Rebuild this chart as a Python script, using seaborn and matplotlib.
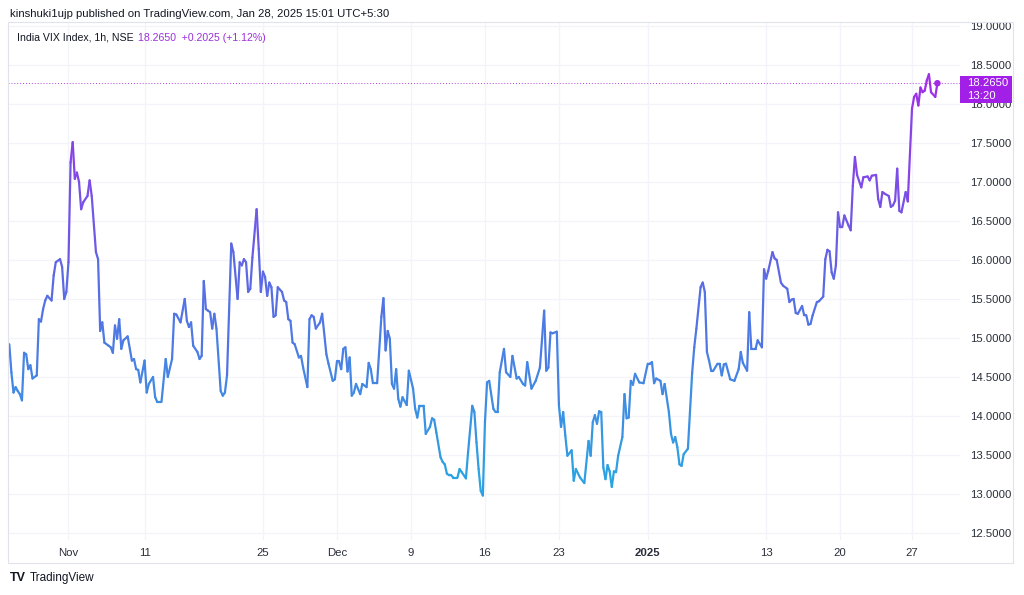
import numpy as np
import pandas as pd
import seaborn as sns
import matplotlib.pyplot as plt
import matplotlib.transforms as mtransforms
from matplotlib.collections import LineCollection
from matplotlib.colors import Normalize
from matplotlib.patches import Rectangle

# hourly bar number (trading hours only, bar 0 = Oct 28 09:15) and India VIX close
bars = [0, 1, 2, 3, 4, 5, 6, 7, 8, 9, 10, 11, 13, 14, 15, 16, 17, 18, 20, 21, 22, 24, 25, 26, 27, 28,
        29, 30, 31, 32, 33, 34, 35, 37, 38, 39, 41, 42, 43, 44, 45, 47, 48, 49, 50, 51, 52, 53, 54, 56,
        58, 59, 60, 61, 62, 64, 65, 66, 68, 69, 70, 72, 74, 75, 77, 78, 79, 81, 83, 84, 85, 86, 87, 89,
        90, 91, 92, 93, 94, 95, 96, 97, 98, 100, 101, 102, 103, 105, 106, 108, 109, 110, 111, 112, 113,
        114, 115, 117, 118, 119, 120, 121, 122, 123, 124, 125, 126, 127, 129, 130, 131, 132, 133, 134,
        135, 137, 138, 139, 141, 142, 143, 144, 145, 147, 148, 150, 151, 153, 154, 155, 156, 157, 158,
        159, 160, 161, 162, 163, 164, 166, 167, 169, 170, 171, 172, 174, 176, 177, 178, 179, 180, 181,
        182, 183, 184, 185, 186, 188, 189, 191, 192, 193, 194, 196, 197, 199, 200, 201, 202, 204, 205,
        206, 207, 208, 209, 210, 212, 213, 214, 216, 217, 219, 220, 221, 222, 223, 224, 225, 226, 227,
        229, 230, 231, 232, 234, 235, 237, 238, 240, 241, 243, 244, 245, 247, 249, 251, 253, 254, 255,
        256, 257, 259, 260, 261, 262, 263, 264, 266, 267, 268, 270, 272, 274, 275, 276, 277, 278, 279,
        280, 281, 282, 283, 284, 285, 286, 287, 288, 290, 291, 292, 293, 294, 295, 296, 298, 300, 302,
        303, 304, 305, 306, 308, 309, 310, 312, 313, 314, 315, 316, 317, 318, 319, 321, 323, 324, 325,
        327, 328, 329, 330, 331, 332, 333, 335, 336, 337, 338, 339, 341, 343, 345, 346, 347, 349, 350,
        351, 353, 354, 356, 357, 358, 359, 361, 362, 363, 365, 366, 368, 369, 370, 371, 372, 373, 375,
        376, 377, 378, 379, 380, 382, 383, 385, 386, 387, 388, 389, 390, 391, 392, 393, 394, 395, 397,
        398, 399, 400, 401, 403, 404, 406, 407, 408, 410, 411, 412, 413, 414, 416, 417, 418, 419, 420,
        421, 422, 424, 425, 427, 428, 429, 430, 431, 432, 433, 434, 435, 436, 438, 439]
vix = [14.92, 14.56, 14.30, 14.37, 14.32, 14.28, 14.20, 14.81, 14.79, 14.60, 14.65, 14.48, 14.52,
       15.24, 15.21, 15.37, 15.48, 15.54, 15.48, 15.80, 15.97, 16.01, 15.91, 15.50, 15.59, 15.97,
       17.25, 17.51, 17.04, 17.12, 17.00, 16.65, 16.74, 16.82, 17.02, 16.82, 16.10, 16.01, 15.09,
       15.20, 14.94, 14.90, 14.88, 14.81, 15.16, 14.99, 15.24, 14.86, 14.97, 15.02, 14.71, 14.73,
       14.60, 14.59, 14.43, 14.71, 14.30, 14.41, 14.50, 14.24, 14.18, 14.18, 14.73, 14.50, 14.73,
       15.31, 15.30, 15.20, 15.50, 15.22, 15.14, 15.20, 14.90, 14.82, 14.73, 14.77, 15.73, 15.37,
       15.35, 15.33, 15.12, 15.31, 15.12, 14.32, 14.26, 14.30, 14.52, 16.21, 16.10, 15.50, 15.97,
       15.93, 16.01, 15.97, 15.59, 15.63, 16.03, 16.65, 16.14, 15.59, 15.85, 15.78, 15.54, 15.71,
       15.65, 15.27, 15.29, 15.65, 15.59, 15.48, 15.46, 15.24, 15.22, 14.94, 14.92, 14.75, 14.77,
       14.62, 14.37, 15.24, 15.29, 15.27, 15.12, 15.20, 15.31, 14.79, 14.67, 14.45, 14.47, 14.70,
       14.70, 14.60, 14.86, 14.88, 14.57, 14.75, 14.26, 14.30, 14.41, 14.28, 14.41, 14.37, 14.68,
       14.60, 14.42, 14.42, 15.27, 15.51, 14.84, 15.09, 14.99, 14.41, 14.35, 14.60, 14.22, 14.12,
       14.24, 14.14, 14.58, 14.35, 14.09, 13.98, 14.13, 14.13, 13.77, 13.86, 13.97, 13.95, 13.79,
       13.47, 13.41, 13.38, 13.26, 13.24, 13.24, 13.21, 13.21, 13.32, 13.28, 13.20, 13.53, 14.13,
       14.05, 13.66, 13.32, 13.04, 12.98, 13.92, 14.43, 14.45, 14.09, 14.05, 14.05, 14.56, 14.86,
       14.56, 14.50, 14.77, 14.48, 14.50, 14.41, 14.39, 14.69, 14.35, 14.45, 14.62, 15.35, 14.58,
       14.62, 15.07, 15.06, 15.08, 14.13, 13.86, 14.05, 13.75, 13.49, 13.56, 13.17, 13.32, 13.21,
       13.14, 13.68, 13.49, 13.92, 14.01, 13.90, 14.06, 14.05, 13.34, 13.19, 13.37, 13.29, 13.09,
       13.29, 13.28, 13.49, 13.73, 14.28, 13.97, 13.98, 14.45, 14.40, 14.54, 14.43, 14.42, 14.67,
       14.67, 14.69, 14.42, 14.48, 14.45, 14.28, 14.41, 14.05, 13.77, 13.66, 13.73, 13.60, 13.38,
       13.36, 13.51, 13.58, 14.55, 14.88, 15.12, 15.65, 15.71, 15.59, 14.82, 14.71, 14.58, 14.58,
       14.67, 14.67, 14.52, 14.66, 14.67, 14.47, 14.45, 14.60, 14.82, 14.68, 14.58, 15.33, 14.86,
       14.86, 14.97, 14.88, 15.88, 15.76, 15.86, 16.10, 16.02, 16.00, 15.71, 15.67, 15.63, 15.46,
       15.49, 15.50, 15.32, 15.31, 15.41, 15.29, 15.29, 15.17, 15.18, 15.29, 15.46, 15.47, 15.53,
       16.01, 16.13, 16.11, 15.84, 15.76, 15.93, 16.61, 16.42, 16.42, 16.57, 16.44, 16.38, 16.95,
       17.32, 17.09, 16.93, 17.06, 17.07, 17.02, 17.08, 17.09, 16.78, 16.68, 16.87, 16.85, 16.82,
       16.68, 16.70, 16.76, 17.17, 16.63, 16.61, 16.87, 16.75, 17.94, 18.09, 18.13, 17.98, 18.21,
       18.15, 18.17, 18.30, 18.38, 18.15, 18.09, 18.265]

tick_bars = [28, 64, 120, 155, 190, 225, 260, 302, 358, 393, 427]
tick_labels = ['Nov', '11', '25', 'Dec', '9', '16', '23', '2025', '13', '20', '27']
price_ticks = [12.5, 13.0, 13.5, 14.0, 14.5, 15.0, 15.5, 16.0, 16.5, 17.0, 17.5, 18.0, 18.5, 19.0]

last_price = 18.2650
last_change = '+0.2025 (+1.12%)'
last_time = '13:20'

df = pd.DataFrame({'bar': bars, 'vix': vix})

sns.set_theme(style='white')
plt.rcParams['font.family'] = ['Liberation Sans', 'DejaVu Sans']

W, H = 1024, 595
fig = plt.figure(figsize=(W / 100, H / 100), dpi=100)
fig.patch.set_facecolor('white')

# outer chart frame
fig.patches.append(Rectangle((8 / W, 1 - 563 / H), (1013 - 8) / W, (563 - 22) / H,
                             transform=fig.transFigure, fill=False,
                             edgecolor='#e0e3eb', linewidth=0.8))

ax = fig.add_axes([8 / W, 1 - 540 / H, (960 - 8) / W, (540 - 22) / H])
ax.set_facecolor('white')
for s in ax.spines.values():
    s.set_visible(False)

low_col, high_col = '#27a8e2', '#a32be8'
cmap = sns.blend_palette([low_col, '#5a6be4', high_col], as_cmap=True)
norm = Normalize(df['vix'].min(), df['vix'].max())

pts = df[['bar', 'vix']].to_numpy()
segs = np.stack([pts[:-1], pts[1:]], axis=1)
mid = (pts[:-1, 1] + pts[1:, 1]) / 2
lc = LineCollection(segs, colors=cmap(norm(mid)), linewidths=1.6,
                    capstyle='round', joinstyle='round', zorder=3)
ax.add_collection(lc)

# last price line and dot
ax.axhline(last_price, color='#b040e0', linestyle=(0, (1, 2)), linewidth=0.7, zorder=2)
sns.scatterplot(x=df['bar'].iloc[-1:], y=df['vix'].iloc[-1:], ax=ax, s=22,
                color='#a32be8', edgecolor='none', zorder=4, legend=False)

ax.set_xlim(-0.6, 449.7)
ax.set_ylim(12.41, 19.05)

ax.set_xticks(tick_bars)
ax.set_xticklabels(tick_labels)
for lbl in ax.get_xticklabels():
    if lbl.get_text() == '2025':
        lbl.set_fontweight('bold')
ax.set_yticks(price_ticks)
ax.set_yticklabels([f'{p:.4f}' for p in price_ticks])
ax.yaxis.tick_right()
ax.tick_params(axis='y', length=0, pad=7, labelsize=8.2, labelcolor='#2a2e39')
ax.tick_params(axis='x', length=0, pad=6, labelsize=8.2, labelcolor='#2a2e39')
ax.grid(True, color='#f2f4f9', linewidth=0.9)
ax.set_axisbelow(True)
ax.set_xlabel('')
ax.set_ylabel('')

# price label on the scale
blend = mtransforms.blended_transform_factory(ax.transAxes, ax.transData)
px_y = (19.05 - 12.41) / (540 - 22)
ax.add_patch(Rectangle((1.0, last_price - 20 * px_y), 52 / 952, 27 * px_y,
                       transform=blend, facecolor='#a11fe6', edgecolor='none',
                       clip_on=False, zorder=5))
ax.text(1.0 + 7 / 952, last_price, f'{last_price:.4f}', transform=blend, color='white',
        fontsize=8.2, va='center', ha='left', zorder=6, clip_on=False)
ax.text(1.0 + 7 / 952, last_price - 13 * px_y, last_time, transform=blend, color='white',
        fontsize=8.2, va='center', ha='left', zorder=6, clip_on=False)

# header texts
fig.text(10 / W, 1 - 14 / H, 'kinshuki1ujp published on TradingView.com, Jan 28, 2025 15:01 UTC+5:30',
         fontsize=8.2, color='#131722', va='center', ha='left')
fig.text(17 / W, 1 - 38 / H, 'India VIX Index, 1h, NSE', fontsize=7.6, color='#131722',
         va='center', ha='left')
fig.text(138 / W, 1 - 38 / H, f'{last_price:.4f}  {last_change}', fontsize=7.6, color='#9b30d9',
         va='center', ha='left')

# footer logo
fig.text(10 / W, 1 - 578 / H, 'TV', fontsize=9, fontweight='heavy', color='#131722',
         va='center', ha='left')
fig.text(30 / W, 1 - 578 / H, 'TradingView', fontsize=8.5, color='#131722',
         va='center', ha='left')

fig.savefig('out.png', dpi=100, facecolor='white')
